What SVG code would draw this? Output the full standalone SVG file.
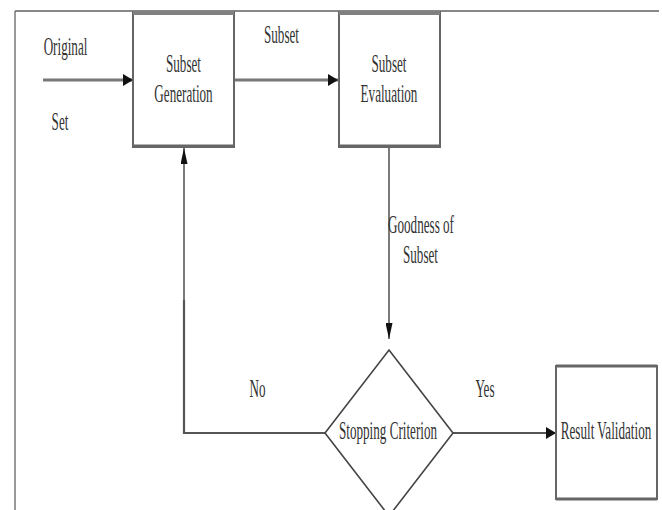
<svg xmlns="http://www.w3.org/2000/svg" width="662" height="510" viewBox="0 0 662 510">
<style>
text{font-family:"Liberation Serif","Times New Roman",serif;font-size:26px;fill:#333;text-anchor:middle;}
.box{fill:#fff;stroke:#666;stroke-width:2;}
.band{stroke:#808080;stroke-width:4;}
.thick{stroke:#777;stroke-width:3;fill:none;}
.thin{stroke:#333;stroke-width:1.3;fill:none;}
.mid{stroke:#555;stroke-width:2.2;fill:none;}
</style>
<defs>
<marker id="ah" viewBox="0 0 10 12" refX="10" refY="6" markerWidth="10" markerHeight="12" markerUnits="userSpaceOnUse" orient="auto">
<path d="M0,0 L10,6 L0,12 z" fill="#111"/>
</marker>
<marker id="an" viewBox="0 0 16 7" refX="16" refY="3.5" markerWidth="16" markerHeight="7" markerUnits="userSpaceOnUse" orient="auto">
<path d="M0,0 L16,3.5 L0,7 z" fill="#111"/>
</marker>
</defs>
<rect width="662" height="510" fill="#fff"/>
<g id="frame">
<line x1="15" y1="11" x2="659" y2="11" stroke="#888" stroke-width="2"/>
<line x1="15" y1="11" x2="15" y2="510" stroke="#777" stroke-width="1.5"/>
</g>
<g id="connectors">
<line class="thick" x1="43" y1="80" x2="133" y2="80" marker-end="url(#ah)"/>
<line class="thick" x1="235" y1="80" x2="338" y2="80" marker-end="url(#ah)"/>
<line class="thin" x1="389" y1="148" x2="389" y2="339" marker-end="url(#an)"/>
<polyline class="mid" points="325,433 184,433 184,300"/>
<line class="thin" x1="184" y1="300" x2="184" y2="148" marker-end="url(#an)"/>
<line class="mid" x1="453" y1="433" x2="556" y2="433" marker-end="url(#ah)"/>
</g>
<g id="labels">
<text transform="translate(65.5,55) scale(0.505,1)">Original</text>
<text transform="translate(60,130) scale(0.505,1)">Set</text>
<text transform="translate(281.5,43) scale(0.505,1)">Subset</text>
<text transform="translate(421,233) scale(0.505,1)">Goodness of</text>
<text transform="translate(420.5,263) scale(0.505,1)">Subset</text>
<text transform="translate(257.5,397) scale(0.505,1)">No</text>
<text transform="translate(485,397) scale(0.505,1)">Yes</text>
</g>
<g id="subset-generation">
<rect class="box" x="133" y="12" width="101" height="135"/>
<line class="band" x1="133" y1="13" x2="234" y2="13"/>
<line x1="133" y1="146" x2="234" y2="146" stroke="#666" stroke-width="3"/>
<text transform="translate(183.5,72) scale(0.505,1)">Subset</text>
<text transform="translate(183.5,102) scale(0.505,1)">Generation</text>
</g>
<g id="subset-evaluation">
<rect class="box" x="339" y="12" width="101" height="135"/>
<line class="band" x1="339" y1="13" x2="440" y2="13"/>
<line x1="339" y1="146" x2="440" y2="146" stroke="#666" stroke-width="3"/>
<text transform="translate(389,72) scale(0.505,1)">Subset</text>
<text transform="translate(389,102) scale(0.505,1)">Evaluation</text>
</g>
<g id="stopping-criterion">
<polygon points="389,350 453,433 389,516 325,433" fill="#fff" stroke="#444" stroke-width="1.6"/>
<text transform="translate(388,439) scale(0.505,1)">Stopping Criterion</text>
</g>
<g id="result-validation">
<rect class="box" x="556" y="366" width="101" height="133"/>
<line x1="556" y1="366" x2="657" y2="366" stroke="#666" stroke-width="3"/>
<line x1="556" y1="499" x2="657" y2="499" stroke="#666" stroke-width="3"/>
<text transform="translate(606,439) scale(0.505,1)">Result Validation</text>
</g>
</svg>
